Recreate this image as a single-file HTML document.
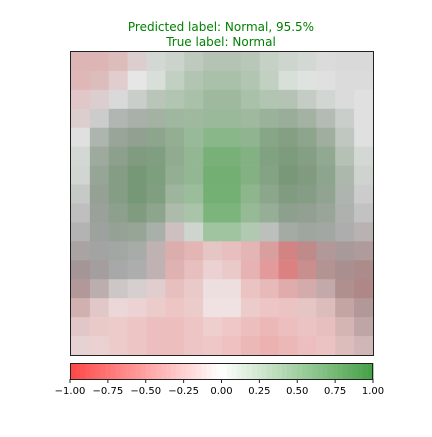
<!DOCTYPE html>
<html><head><meta charset="utf-8"><style>
body{margin:0;background:#fff;}
svg text{font-family:"DejaVu Sans","Liberation Sans",sans-serif;}
</style></head><body>
<svg id="chart" width="432" height="432" xmlns="http://www.w3.org/2000/svg">
<text x="221" y="31" text-anchor="middle" font-size="12" fill="#008000">Predicted label: Normal, 95.5%</text>
<text x="221" y="46" text-anchor="middle" font-size="12" fill="#008000">True label: Normal</text>
<g id="img"></g>
<rect x="70.5" y="51.5" width="303" height="304" fill="none" stroke="#222" stroke-width="1"/>
<g id="cbar"></g>
</svg>
<script>
const heat=[
[-.3,-.3,-.25,-.1,.05,.1,.15,.2,.2,.2,.15,.1,.05,0,0,0],
[-.3,-.25,-.15,0,.1,.2,.25,.3,.3,.25,.2,.1,.05,0,0,0],
[-.2,-.1,0,.05,.15,.25,.3,.35,.35,.3,.25,.2,.1,.05,0,0],
[-.1,0,.05,.1,.2,.3,.35,.4,.4,.35,.3,.25,.2,.1,.05,0],
[0,.1,.15,.2,.3,.35,.45,.6,.6,.5,.4,.35,.3,.2,.1,0],
[.05,.15,.25,.35,.4,.35,.5,.75,.75,.6,.45,.4,.35,.3,.15,.05],
[.05,.2,.3,.45,.45,.35,.5,.8,.8,.6,.4,.4,.35,.3,.15,.05],
[.05,.15,.3,.45,.4,.3,.45,.8,.8,.55,.35,.35,.3,.25,.1,0],
[0,.1,.25,.35,.3,.2,.35,.75,.75,.5,.3,.25,.2,.15,.05,0],
[0,.05,.15,.2,.1,-.1,.1,.5,.5,.3,.05,.1,.1,.05,0,-.05],
[-.05,0,.05,.05,-.1,-.35,-.35,-.25,-.3,-.35,-.45,-.6,-.4,-.2,-.1,-.15],
[-.1,-.05,0,0,-.1,-.35,-.3,-.2,-.25,-.4,-.55,-.7,-.45,-.25,-.2,-.25],
[-.2,-.1,-.05,-.05,-.15,-.3,-.25,-.1,-.1,-.3,-.35,-.4,-.3,-.2,-.25,-.3],
[-.25,-.2,-.15,-.2,-.25,-.3,-.25,-.1,-.1,-.25,-.3,-.3,-.25,-.25,-.25,-.2],
[-.2,-.25,-.25,-.3,-.35,-.35,-.3,-.25,-.3,-.35,-.4,-.35,-.3,-.3,-.25,-.2],
[-.15,-.2,-.25,-.3,-.35,-.35,-.3,-.3,-.35,-.4,-.45,-.4,-.35,-.3,-.25,-.2]];
const gray=[
[.85,.85,.86,.86,.86,.85,.82,.8,.8,.82,.85,.86,.86,.86,.85,.85],
[.86,.86,.88,.9,.9,.86,.82,.8,.8,.82,.86,.9,.9,.88,.86,.86],
[.88,.86,.85,.82,.8,.82,.8,.78,.78,.8,.82,.8,.82,.85,.86,.88],
[.86,.8,.72,.7,.72,.75,.78,.78,.78,.78,.72,.7,.72,.75,.82,.88],
[.88,.72,.66,.64,.66,.72,.8,.82,.82,.78,.68,.64,.66,.7,.8,.88],
[.86,.68,.64,.62,.64,.7,.8,.82,.82,.78,.66,.62,.64,.68,.78,.86],
[.85,.66,.62,.6,.64,.72,.8,.83,.83,.78,.66,.6,.62,.66,.74,.84],
[.8,.64,.62,.6,.64,.74,.82,.84,.84,.8,.68,.62,.62,.66,.72,.8],
[.75,.64,.64,.62,.66,.76,.84,.86,.86,.82,.7,.64,.64,.66,.7,.76],
[.7,.64,.64,.66,.7,.8,.86,.88,.88,.84,.76,.68,.66,.66,.68,.72],
[.66,.64,.66,.68,.74,.84,.88,.9,.9,.88,.82,.74,.68,.66,.64,.66],
[.62,.64,.66,.68,.74,.86,.9,.92,.92,.9,.86,.8,.72,.66,.62,.62],
[.66,.72,.8,.84,.88,.9,.92,.93,.93,.92,.9,.86,.8,.74,.64,.62],
[.8,.88,.92,.93,.93,.93,.93,.94,.94,.93,.93,.92,.9,.86,.74,.66],
[.88,.92,.93,.93,.93,.93,.93,.94,.94,.93,.93,.93,.92,.9,.82,.72],
[.9,.92,.93,.93,.93,.93,.93,.94,.94,.93,.93,.93,.93,.92,.86,.8]];
const ticks=[-1,-0.75,-0.5,-0.25,0,0.25,0.5,0.75,1];
const NS="http://www.w3.org/2000/svg";
const X0=71,Y0=52,W=302,H=303;
function xScale(c,n){return X0+c*W/n;}
function yScale(r,n){return Y0+r*H/n;}
function heatColor(v){
  const a=Math.min(1,Math.abs(v));
  if(v>=0) return [Math.round(255-a*(255-70)),Math.round(255-a*(255-160)),Math.round(255-a*(255-70))];
  return [255,Math.round(255-a*(255-70)),Math.round(255-a*(255-70))];
}
const g=document.getElementById('img');
const nr=heat.length,nc=heat[0].length;
for(let r=0;r<nr;r++)for(let c=0;c<nc;c++){
  const x=xScale(c,nc),y=yScale(r,nr),w=W/nc+0.6,h=H/nr+0.6;
  const b=Math.round(gray[r][c]*255);
  const base=document.createElementNS(NS,'rect');
  
  
  base.setAttribute('x',x);base.setAttribute('y',y);base.setAttribute('width',w);base.setAttribute('height',h);
  base.setAttribute('fill',`rgb(${b},${b},${b})`);
  g.appendChild(base);
  const v=heat[r][c];
  const col=v>=0?'rgb(50,150,50)':'rgb(235,60,60)';
  const ov=document.createElementNS(NS,'rect');
  
  
  ov.setAttribute('x',x);ov.setAttribute('y',y);ov.setAttribute('width',w);ov.setAttribute('height',h);
  ov.setAttribute('fill',col);ov.setAttribute('fill-opacity',Math.min(0.8,Math.abs(v)*0.75));
  g.appendChild(ov);
}
const cb=document.getElementById('cbar');
const CX=70,CW=303,CY=363,CH=16,steps=60;
function cbX(v){return CX+(v+1)/2*CW;}
for(let i=0;i<steps;i++){
  const v=-1+(i+0.5)*2/steps;const [r,gg,b]=heatColor(v);
  const rc=document.createElementNS(NS,'rect');
  
  
  rc.setAttribute('x',CX+i*CW/steps);rc.setAttribute('y',CY);rc.setAttribute('width',CW/steps+0.5);rc.setAttribute('height',CH);
  rc.setAttribute('fill',`rgb(${r},${gg},${b})`);
  cb.appendChild(rc);
}
const fr=document.createElementNS(NS,'rect');


fr.setAttribute('x',CX+0.5);fr.setAttribute('y',CY+0.5);fr.setAttribute('width',CW-1);fr.setAttribute('height',CH);
fr.setAttribute('fill','none');fr.setAttribute('stroke','#222');
cb.appendChild(fr);
ticks.forEach(t=>{
  const x=cbX(t);
  const l=document.createElementNS(NS,'line');
  
  
  l.setAttribute('x1',x);l.setAttribute('x2',x);l.setAttribute('y1',CY+CH);l.setAttribute('y2',CY+CH+4);l.setAttribute('stroke','#222');
  cb.appendChild(l);
  const tx=document.createElementNS(NS,'text');
  
  
  tx.setAttribute('x',x);tx.setAttribute('y',CY+CH+15);tx.setAttribute('text-anchor','middle');tx.setAttribute('font-size','10');tx.setAttribute('fill','#000');
  tx.textContent=(t<0?'\u2212':'')+Math.abs(t).toFixed(2);
  cb.appendChild(tx);
});
</script>
</body></html>
